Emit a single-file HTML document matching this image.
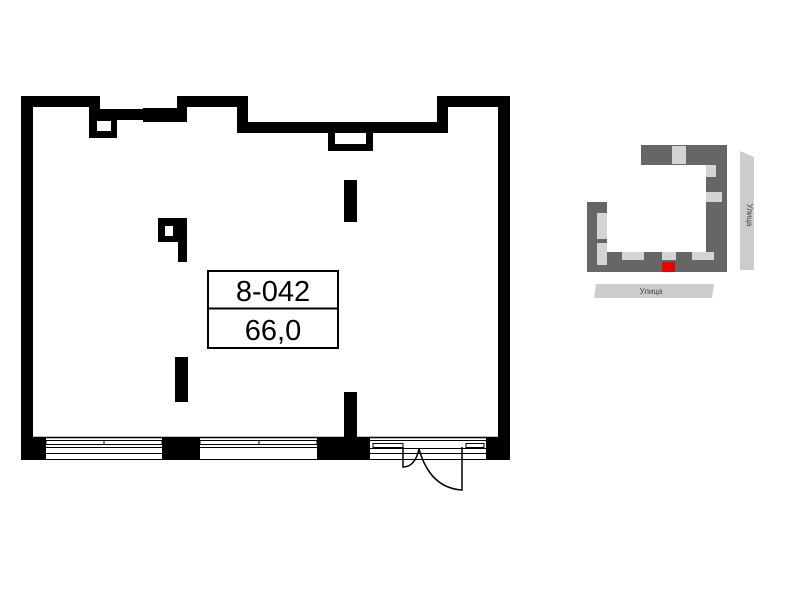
<!DOCTYPE html>
<html><head><meta charset="utf-8"><style>
body{margin:0;background:#fff;width:800px;height:600px;overflow:hidden}
</style></head><body>
<svg width="800" height="600" xmlns="http://www.w3.org/2000/svg">
<g fill="#000">
<!-- outer walls -->
<rect x="21" y="96" width="12" height="364"/>
<rect x="498" y="96" width="12" height="364"/>
<rect x="21" y="96" width="79" height="11"/>
<rect x="89" y="96" width="11" height="24"/>
<rect x="89" y="109" width="54" height="11"/>
<rect x="89" y="109" width="28" height="29"/>
<rect x="143" y="108" width="44" height="14"/>
<rect x="177" y="96" width="10" height="26"/>
<rect x="177" y="96" width="71" height="11"/>
<rect x="237" y="96" width="11" height="37"/>
<rect x="237" y="122" width="211" height="11"/>
<rect x="328" y="122" width="45" height="29"/>
<rect x="437" y="96" width="11" height="37"/>
<rect x="437" y="96" width="73" height="11"/>
<!-- columns -->
<rect x="344" y="180" width="13" height="42"/>
<rect x="344" y="392" width="13" height="46"/>
<rect x="175" y="357" width="13" height="45"/>
<rect x="158" y="218" width="29" height="24"/>
<rect x="178" y="218" width="9" height="44"/>
<!-- bottom pillars -->
<rect x="21" y="437" width="25" height="23"/>
<rect x="162" y="437" width="38" height="23"/>
<rect x="317" y="437" width="53" height="23"/>
<rect x="486" y="437" width="24" height="23"/>
</g>
<g fill="#fff">
<rect x="97" y="121" width="14" height="10"/>
<rect x="335" y="133" width="31" height="11"/>
<rect x="165" y="226" width="8" height="10"/>
</g>
<g stroke="#000" stroke-width="1" fill="none">
<line x1="33" y1="437.5" x2="498" y2="437.5" stroke-width="1.5"/>
<rect x="46" y="440.5" width="116" height="4"/>
<line x1="104" y1="440" x2="104" y2="445"/>
<line x1="46" y1="447.5" x2="162" y2="447.5"/>
<line x1="46" y1="453.5" x2="162" y2="453.5"/>
<line x1="46" y1="459.5" x2="162" y2="459.5"/>
<rect x="200" y="440.5" width="117" height="4"/>
<line x1="259" y1="440" x2="259" y2="445"/>
<line x1="200" y1="447.5" x2="317" y2="447.5"/>
<line x1="200" y1="459.5" x2="317" y2="459.5"/>
<line x1="370" y1="440.5" x2="486" y2="440.5"/>
<rect x="373" y="443.5" width="30" height="4"/>
<rect x="466" y="443.5" width="18" height="4"/>
<line x1="370" y1="448.5" x2="486" y2="448.5"/>
<line x1="370" y1="453.5" x2="486" y2="453.5"/>
<line x1="370" y1="459.5" x2="486" y2="459.5"/>
<path d="M403 447 V467 Q415 467 419 449" stroke-width="1.5"/>
<path d="M462 447 V490 Q430 488 419 449" stroke-width="1.5"/>
</g>
<g fill="#fff" stroke="#000" stroke-width="2">
<rect x="208" y="271" width="130" height="77"/>
<line x1="208" y1="308.5" x2="338" y2="308.5"/>
</g>
<g font-family="Liberation Sans, sans-serif" font-size="29" text-anchor="middle" fill="#000">
<text x="273" y="301">8-042</text>
<text x="273" y="340">66,0</text>
</g>
<!-- minimap -->
<g fill="#666">
<rect x="641" y="145" width="86" height="20"/>
<rect x="706" y="145" width="21" height="127"/>
<rect x="587" y="202" width="20" height="70"/>
<rect x="587" y="252" width="140" height="20"/>
</g>
<g fill="#d4d4d4">
<rect x="672" y="146" width="14" height="18"/>
<rect x="706" y="165" width="10" height="12"/>
<rect x="706" y="192" width="16" height="10"/>
<rect x="597" y="213" width="10" height="26"/>
<rect x="597" y="243" width="10" height="22"/>
<rect x="622" y="252" width="22" height="8"/>
<rect x="662" y="252" width="14" height="8"/>
<rect x="692" y="252" width="22" height="8"/>
</g>
<rect x="662" y="262" width="13" height="10" fill="#e00"/>
<polygon points="740,151 754,157 754,270 740,270" fill="#ccc"/>
<text x="747" y="215" font-family="Liberation Sans, DejaVu Sans, sans-serif" font-size="8" fill="#444" text-anchor="middle" transform="rotate(90 747 215)">Улица</text>
<polygon points="596,284 714,284 712,298 594,298" fill="#ccc"/>
<text x="651" y="294" font-family="Liberation Sans, DejaVu Sans, sans-serif" font-size="8" fill="#444" text-anchor="middle">Улица</text>
</svg>
</body></html>
